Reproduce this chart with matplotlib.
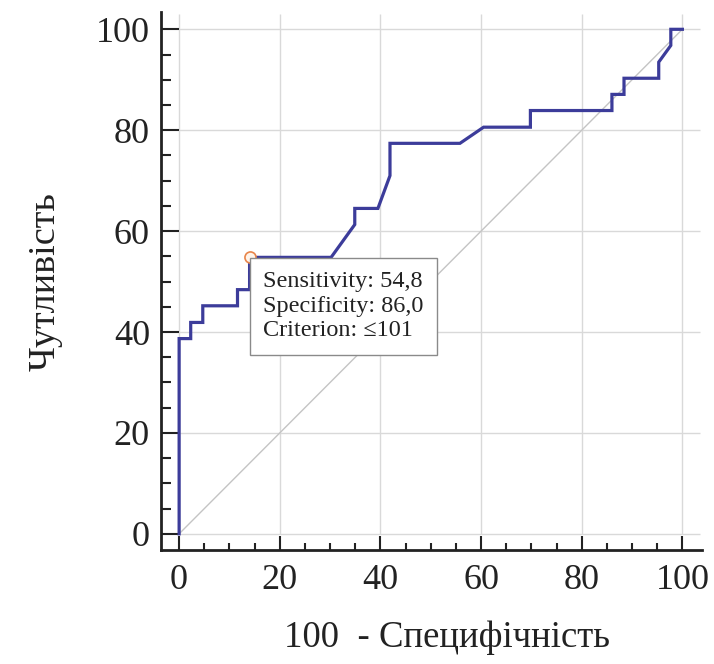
import matplotlib
matplotlib.use("Agg")
import matplotlib.pyplot as plt
from matplotlib.ticker import MultipleLocator

# ROC curve points: 100 - specificity vs sensitivity
fpr = [0, 0, 2.3, 2.3, 4.7, 4.7, 11.6, 11.6, 14.0, 14.0, 30.2, 34.9, 34.9,
       39.5, 41.9, 41.9, 55.8, 60.5, 69.8, 69.8, 86.0, 86.0, 88.4, 88.4,
       95.3, 95.3, 97.7, 97.7, 100]
tpr = [0, 38.7, 38.7, 41.9, 41.9, 45.2, 45.2, 48.4, 48.4, 54.8, 54.8, 61.3,
       64.5, 64.5, 71.0, 77.4, 77.4, 80.6, 80.6, 83.9, 83.9, 87.1, 87.1,
       90.3, 90.3, 93.5, 96.8, 100, 100]

cut_x = 14.0
cut_y = 54.8
cut_text = "Sensitivity: 54,8\nSpecificity: 86,0\nCriterion: \u2264101"

ticks = [0, 20, 40, 60, 80, 100]

plt.rcParams['font.family'] = ['Liberation Serif', 'DejaVu Serif']

fig = plt.figure(figsize=(7.14, 6.64), dpi=100)
ax = fig.add_axes([0.2255, 0.1717, 0.757, 0.81])

ax.set_xlim(-3.6, 103.8)
ax.set_ylim(-3.2, 103.4)

# light grid, only inside the data range
grid_col = '#d9d9d9'
ax.vlines(ticks, 0, 103, colors=grid_col, lw=1, zorder=1)
ax.hlines(ticks, 0, 103.5, colors=grid_col, lw=1, zorder=1)

# reference diagonal
ax.plot([0, 100], [0, 100], color='#c4c4c4', lw=1, zorder=2)

ax.plot(fpr, tpr, color='#3c3c9a', lw=2.3, zorder=3, solid_joinstyle='miter')
ax.plot([cut_x], [cut_y], 'o', ms=8, mfc='#fff4ea', mec='#e8854a', mew=1.2, zorder=5)

ax.annotate(cut_text, xy=(cut_x, cut_y), xytext=(10, -10), textcoords='offset points',
            ha='left', va='top', fontsize=17.5, color='#222222', linespacing=1.22,
            bbox=dict(boxstyle='square,pad=0.55', fc='white', ec='#8a8a8a', lw=1),
            zorder=6)

for s in ['top', 'right']:
    ax.spines[s].set_visible(False)
for s in ['left', 'bottom']:
    ax.spines[s].set_linewidth(2)
    ax.spines[s].set_color('#222222')

ax.set_xticks(ticks)
ax.set_yticks(ticks)
ax.xaxis.set_minor_locator(MultipleLocator(5))
ax.yaxis.set_minor_locator(MultipleLocator(5))
ax.tick_params(axis='both', which='both', direction='in', colors='#222222',
               labelsize=26, width=1.5)
ax.tick_params(axis='y', which='major', length=13, pad=8)
ax.tick_params(axis='y', which='minor', length=7)
ax.tick_params(axis='x', which='major', length=10, pad=10)
ax.tick_params(axis='x', which='minor', length=5)

ax.set_xlabel("100  - Специфічність", fontsize=26.5, labelpad=17, x=0.529,
              color='#222222')
ax.set_ylabel("Чутливість", fontsize=27.5, labelpad=24, color='#222222')

fig.savefig("out.png", dpi=100)
